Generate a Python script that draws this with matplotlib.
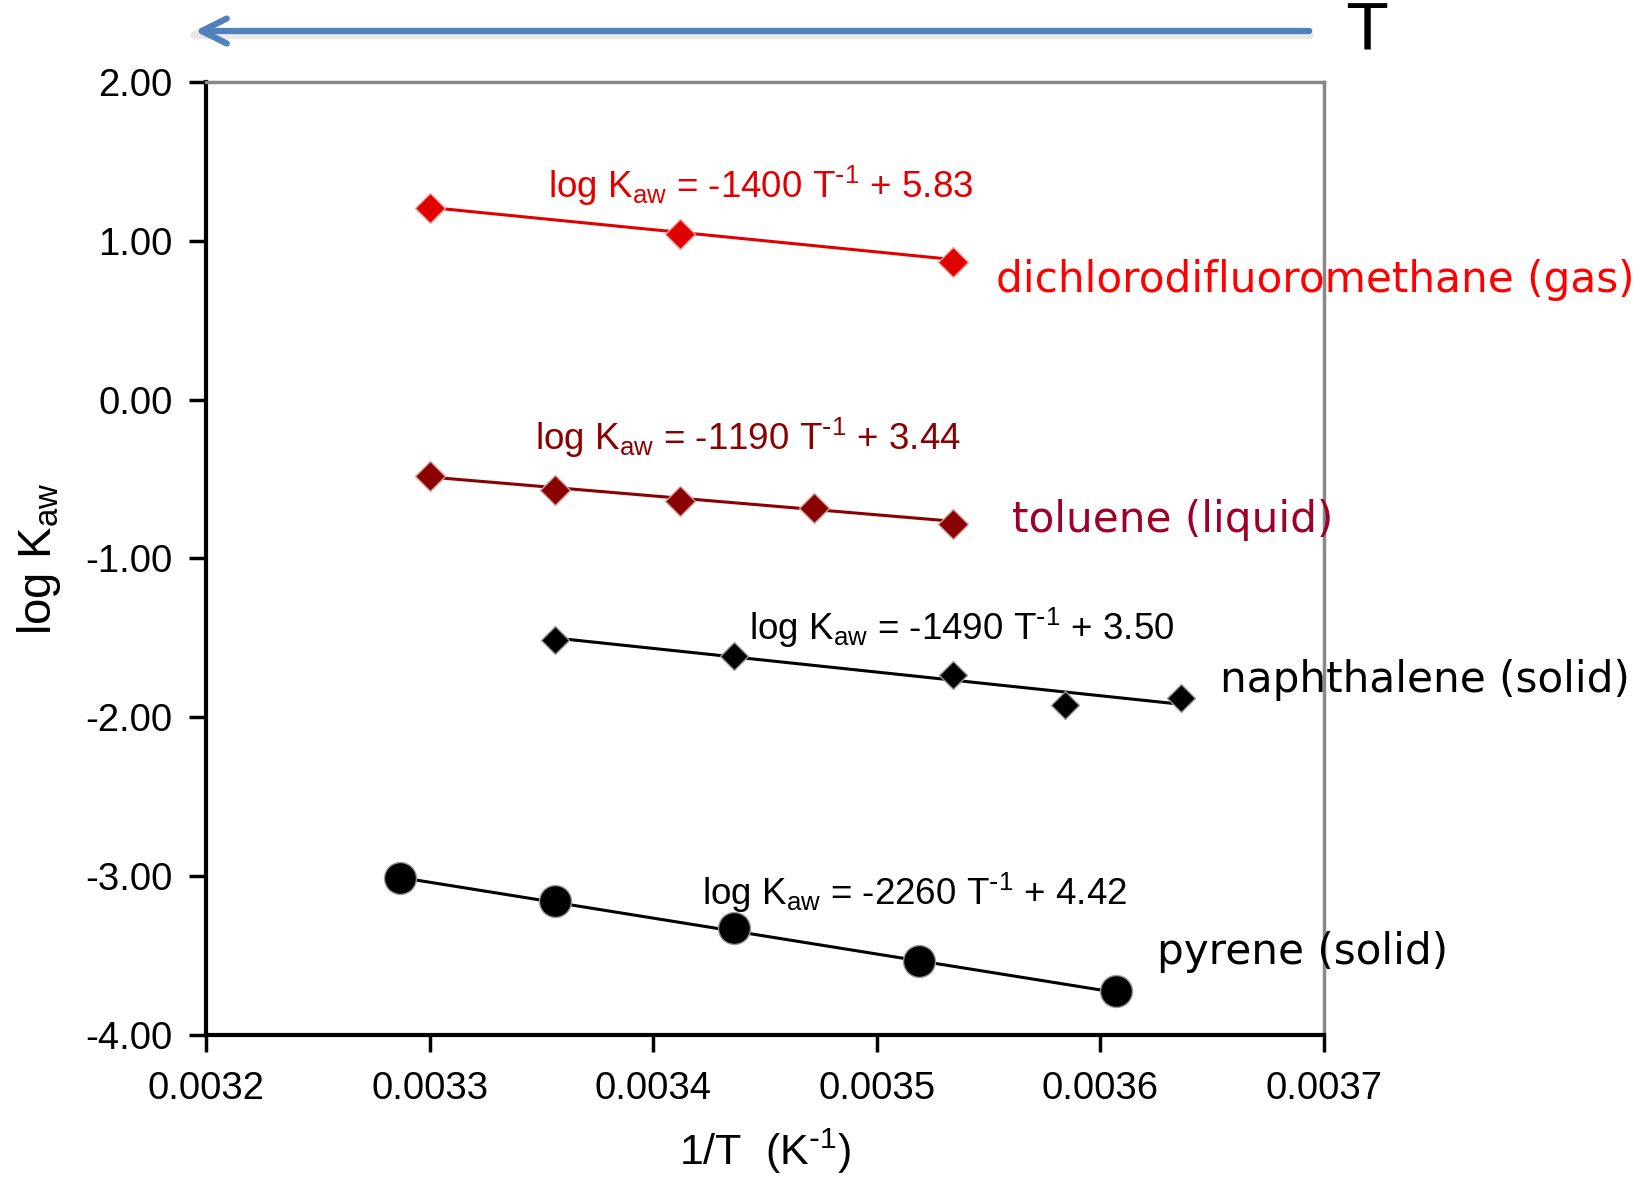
import matplotlib
matplotlib.use("Agg")
import matplotlib.pyplot as plt
import numpy as np

plt.rcParams['font.family'] = ['Liberation Sans', 'DejaVu Sans']
plt.rcParams['mathtext.default'] = 'regular'

# data (x = 1/T in K^-1, y = log Kaw)
freon_x = [0.003300, 0.003412, 0.003534]
freon_y = [1.205, 1.040, 0.868]
toluene_x = [0.003300, 0.003356, 0.003412, 0.003472, 0.003534]
toluene_y = [-0.483, -0.570, -0.636, -0.682, -0.781]
naph_x = [0.003356, 0.003436, 0.003534, 0.003584, 0.003636]
naph_y = [-1.510, -1.616, -1.735, -1.921, -1.881]
pyrene_x = [0.003287, 0.003356, 0.003436, 0.003519, 0.003607]
pyrene_y = [-3.013, -3.159, -3.325, -3.536, -3.722]

# fitted lines: slope, intercept
fits = {'freon': (-1400, 5.83), 'toluene': (-1190, 3.44),
        'naph': (-1490, 3.50), 'pyrene': (-2260, 4.42)}

xticks = [0.0032, 0.0033, 0.0034, 0.0035, 0.0036, 0.0037]
yticks = [2, 1, 0, -1, -2, -3, -4]

red = '#E00000'
dred = '#8B0000'
lab_red = '#FF0000'
lab_dred = '#A00028'

fig = plt.figure(figsize=(16.49, 11.81), dpi=100)
ax = fig.add_axes([0.1249, 0.1236, 0.6780, 0.8070])


def fit_line(xs, key, color):
    m, b = fits[key]
    xx = np.array([min(xs), max(xs)])
    ax.plot(xx, m * xx + b, color=color, lw=2.2, zorder=2)


fit_line(freon_x, 'freon', red)
fit_line(toluene_x, 'toluene', dred)
fit_line(naph_x, 'naph', 'black')
fit_line(pyrene_x, 'pyrene', 'black')

ax.plot(freon_x, freon_y, 'D', color=red, ms=15, mec='#f0a0a0', mew=1, zorder=3)
ax.plot(toluene_x, toluene_y, 'D', color=dred, ms=15, mec='#d0a0a0', mew=1, zorder=3)
ax.plot(naph_x, naph_y, 'D', color='black', ms=14, mec='#999999', mew=1, zorder=3)
ax.plot(pyrene_x, pyrene_y, 'o', color='black', ms=23, mec='#999999', mew=1, zorder=3)

ax.set_xlim(0.0032, 0.0037)
ax.set_ylim(-4, 2)
ax.set_xticks(xticks)
ax.set_xticklabels([f'{v:.4f}' for v in xticks])
ax.set_yticks(yticks)
ax.set_yticklabels([f'{v:.2f}' for v in yticks])
ax.tick_params(axis='both', labelsize=27.5, direction='out', length=12, width=2.5, pad=12)
ax.tick_params(axis='x', pad=14)

for s in ['left', 'bottom']:
    ax.spines[s].set_linewidth(3)
    ax.spines[s].set_color('black')
for s in ['top', 'right']:
    ax.spines[s].set_linewidth(2.5)
    ax.spines[s].set_color('#888888')

ax.set_ylabel('log K$_{aw}$', fontsize=34, labelpad=16)
ax.set_xlabel(r'1/T  (K$^{\text{-}1}$)', fontsize=31, labelpad=14)

eq_fs = 26.5
sup = r' T$^{\text{-}1}$ + '
ax.text(0.003353, 1.344, 'log K$_{aw}$ = -1400' + sup + '5.83', color=red,
        fontsize=eq_fs, va='center')
ax.text(0.003347, -0.238, 'log K$_{aw}$ = -1190' + sup + '3.44', color=dred,
        fontsize=eq_fs, va='center')
ax.text(0.003443, -1.437, 'log K$_{aw}$ = -1490' + sup + '3.50', color='black',
        fontsize=eq_fs, va='center')
ax.text(0.003422, -3.106, 'log K$_{aw}$ = -2260' + sup + '4.42', color='black',
        fontsize=eq_fs, va='center')

lab_fs = 30.3
lab_font = ['DejaVu Sans']
ax.text(0.0035532, 0.755, 'dichlorodifluoromethane (gas)', color=lab_red,
        fontsize=lab_fs, va='center', family=lab_font, clip_on=False)
ax.text(0.0035603, -0.755, 'toluene (liquid)', color=lab_dred,
        fontsize=lab_fs, va='center', family=lab_font, clip_on=False)
ax.text(0.0036534, -1.762, 'naphthalene (solid)', color='black',
        fontsize=lab_fs, va='center', family=lab_font, clip_on=False)
ax.text(0.0036252, -3.477, 'pyrene (solid)', color='black',
        fontsize=lab_fs, va='center', family=lab_font, clip_on=False)

# temperature arrow at the top
fig.patches.append(matplotlib.patches.FancyArrowPatch(
    (1312 / 1649, 1 - 35 / 1181), (192 / 1649, 1 - 35 / 1181),
    transform=fig.transFigure, arrowstyle='-', color='#e8e8e8', lw=6))
fig.patches.append(matplotlib.patches.FancyArrowPatch(
    (1312 / 1649, 1 - 31 / 1181), (192 / 1649, 1 - 31 / 1181),
    transform=fig.transFigure, arrowstyle='->,head_length=0.9,head_width=0.45',
    color='#4F81BD', lw=4.5, mutation_scale=20))
fig.text(1367 / 1649, 1 - 33 / 1181, 'T', fontsize=46, va='center', ha='center',
         family=lab_font)

fig.savefig('out.png', dpi=100)
